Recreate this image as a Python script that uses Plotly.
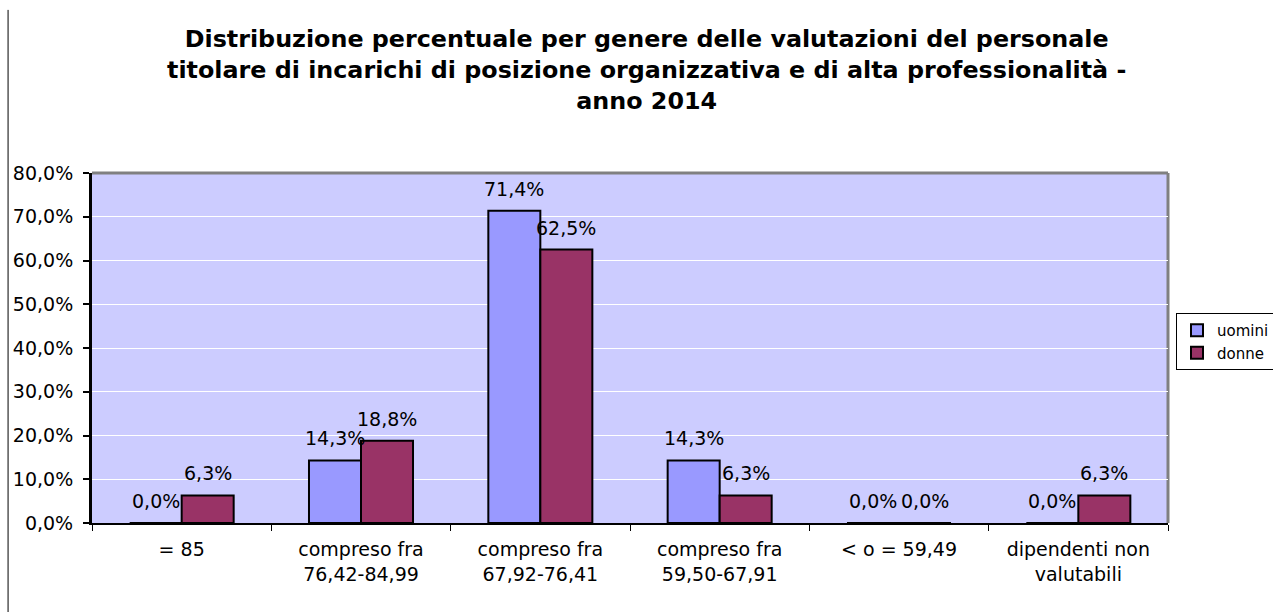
import plotly.graph_objects as go

categories = ["= 85", "compreso fra 76,42-84,99", "compreso fra 67,92-76,41",
              "compreso fra 59,50-67,91", "< o = 59,49", "dipendenti non valutabili"]
tick_labels = ["= 85", "compreso fra<br>76,42-84,99", "compreso fra<br>67,92-76,41",
               "compreso fra<br>59,50-67,91", "&lt; o = 59,49", "dipendenti non<br>valutabili"]
uomini = [0.0, 14.3, 71.4, 14.3, 0.0, 0.0]
donne = [6.3, 18.8, 62.5, 6.3, 0.0, 6.3]

FONT = "DejaVu Sans"
LABEL_SIZE = 19

fig = go.Figure()
fig.add_trace(go.Bar(
    x=categories, y=uomini, name="uomini",
    marker=dict(color="#9999FF", line=dict(color="black", width=2)),
))
fig.add_trace(go.Bar(
    x=categories, y=donne, name="donne",
    marker=dict(color="#993366", line=dict(color="black", width=2)),
))

def fmt(v):
    return f"{v:.1f}%".replace(".", ",")

annotations = []
for series, shift in ((uomini, -26), (donne, 26)):
    for c, v in zip(categories, series):
        annotations.append(dict(
            x=c, y=v, xref="x", yref="y", text=fmt(v), showarrow=False,
            xanchor="center", yanchor="bottom", xshift=shift, yshift=9,
            font=dict(family=FONT, size=LABEL_SIZE, color="black"),
        ))

fig.update_layout(
    width=1273, height=612,
    separators=",.",
    barmode="group", bargap=0.42, bargroupgap=0,
    paper_bgcolor="white", plot_bgcolor="#CCCCFF",
    margin=dict(l=92, r=105, t=173, b=89, autoexpand=False),
    font=dict(family=FONT, size=LABEL_SIZE, color="black"),
    title=dict(
        text="<b>Distribuzione percentuale per genere delle valutazioni del personale<br>"
             "titolare di incarichi di posizione organizzativa e di alta professionalità -<br>"
             "anno 2014</b>",
        x=0.508, xanchor="center", xref="container",
        y=1 - 47 / 612, yanchor="middle", yref="container",
        font=dict(family=FONT, size=23.8, color="black"),
    ),
    legend=dict(
        xref="container", yref="container",
        x=1176 / 1273, xanchor="left", y=1 - 313 / 612, yanchor="top",
        bgcolor="white", bordercolor="black", borderwidth=1,
        font=dict(family=FONT, size=15, color="black"),
        itemwidth=30, tracegroupgap=0,
    ),
    showlegend=True,
    annotations=annotations,
    xaxis=dict(
        tickvals=categories, ticktext=tick_labels, automargin=False,
        showline=True, linecolor="black", linewidth=2,
        ticks="outside", tickson="boundaries", ticklen=6, tickcolor="black", tickwidth=1,
        ticklabelstandoff=8,
        showgrid=False, tickfont=dict(family=FONT, size=LABEL_SIZE),
    ),
    yaxis=dict(
        range=[0, 80], dtick=10, tickformat=".1f", ticksuffix="%", automargin=False,
        showline=True, linecolor="black", linewidth=3,
        ticks="outside", ticklen=6, tickcolor="black", tickwidth=2,
        ticklabelstandoff=6,
        showgrid=True, gridcolor="white", gridwidth=1,
        zeroline=False, tickfont=dict(family=FONT, size=LABEL_SIZE),
    ),
    shapes=[
        dict(type="line", xref="paper", yref="paper", x0=0, x1=1, y0=1, y1=1,
             line=dict(color="#808080", width=3), layer="below"),
        dict(type="line", xref="paper", yref="paper", x0=1, x1=1, y0=0, y1=1,
             line=dict(color="#808080", width=3), layer="below"),
        dict(type="line", xref="paper", yref="paper", x0=-0.078, x1=-0.078, y0=-0.26, y1=1.466,
             line=dict(color="black", width=1)),
    ],
)

fig.write_html("out.html", config={"displayModeBar": False},
               post_script="document.body.style.margin='0';")
